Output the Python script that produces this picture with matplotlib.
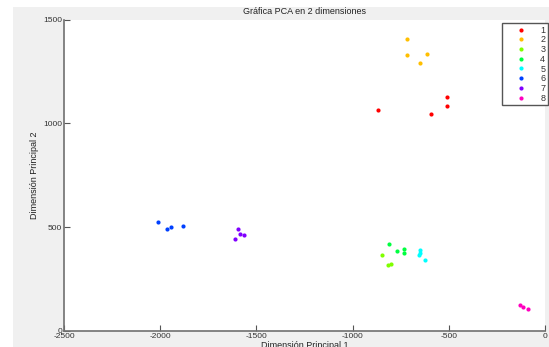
import matplotlib
matplotlib.use("Agg")
import matplotlib.pyplot as plt
from matplotlib.patches import Rectangle

plt.rcParams['font.family'] = ['Liberation Sans', 'DejaVu Sans']
plt.rcParams['axes.unicode_minus'] = False

labels = ['1', '2', '3', '4', '5', '6', '7', '8']
colors = ['#ff0000', '#ffbf00', '#80ff00', '#00ff40', '#00ffff', '#0040ff', '#8000ff', '#ff00bf']

x1 = [-870, -511, -511, -591]
y1 = [1067, 1129, 1083, 1044]
x2 = [-717, -717, -615, -650]
y2 = [1410, 1332, 1337, 1292]
x3 = [-847, -818, -800]
y3 = [365, 316, 320]
x4 = [-811, -768, -734, -734]
y4 = [416, 384, 392, 376]
x5 = [-648, -653, -650, -625]
y5 = [389, 363, 374, 340]
x6 = [-2013, -1963, -1945, -1882]
y6 = [523, 490, 500, 503]
x7 = [-1597, -1585, -1563, -1610]
y7 = [490, 468, 463, 441]
x8 = [-130, -113, -87]
y8 = [122, 115, 106]

xs = [x1, x2, x3, x4, x5, x6, x7, x8]
ys = [y1, y2, y3, y4, y5, y6, y7, y8]

xticks = [-2500, -2000, -1500, -1000, -500, 0]
yticks = [0, 500, 1000, 1500]

fig = plt.figure(figsize=(5.49, 3.47), dpi=100)
fig.patch.set_facecolor('white')
fig.patches.append(Rectangle((13/549, 0), 1 - 13/549, 1 - 7/347,
                             transform=fig.transFigure, facecolor='#f0f0f0',
                             edgecolor='none', zorder=-10))

ax = fig.add_axes([64/549, (347-330.5)/347, (545-64)/549, (330.5-20)/347])
ax.set_facecolor('white')

for xv, yv, c, lab in zip(xs, ys, colors, labels):
    ax.plot(xv, yv, linestyle='none', marker='o', markersize=3, color=c,
            markeredgewidth=0, label=lab)

ax.set_xlim(-2500, 0)
ax.set_ylim(0, 1500)
ax.set_xticks(xticks)
ax.set_yticks(yticks)
ax.tick_params(direction='in', length=4, width=0.8, colors='#555555',
               labelsize=6, labelcolor='#333333', pad=1.5)
for s in ['top', 'right']:
    ax.spines[s].set_visible(False)
for s in ['left', 'bottom']:
    ax.spines[s].set_color('#707070')
    ax.spines[s].set_linewidth(1.2)

ax.set_title('Gráfica PCA en 2 dimensiones', fontsize=6.5, color='#222222', pad=4)
ax.set_xlabel('Dimensión Principal 1', fontsize=6.5, color='#222222', labelpad=1)
ax.set_ylabel('Dimensión Principal 2', fontsize=6.5, color='#222222', labelpad=3)

leg = ax.legend(loc='upper right', bbox_to_anchor=(548/549, (347-23)/347),
                bbox_transform=fig.transFigure, fontsize=6.5, frameon=True,
                fancybox=False, edgecolor='#555555', framealpha=1,
                markerfirst=True, labelspacing=0.08, handlelength=3.6,
                handletextpad=0.3, borderpad=0.3, borderaxespad=0)
leg.get_frame().set_linewidth(1.0)
for t in leg.get_texts():
    t.set_color('#333333')

fig.savefig('out.png', dpi=100)
